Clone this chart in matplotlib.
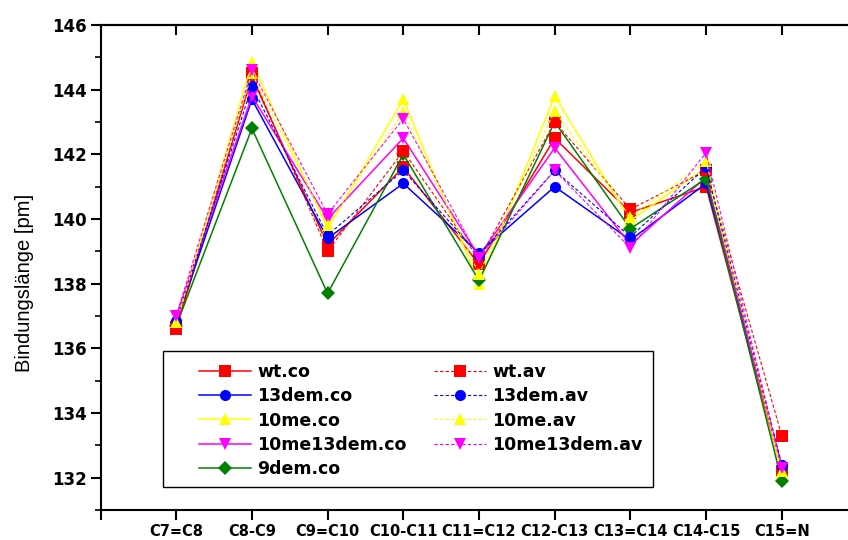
import matplotlib
matplotlib.use("Agg")
import matplotlib.pyplot as plt
from matplotlib.ticker import MultipleLocator
from matplotlib.patches import Rectangle

bonds = ["C7=C8", "C8-C9", "C9=C10", "C10-C11", "C11=C12",
         "C12-C13", "C13=C14", "C14-C15", "C15=N"]

wt_co = [136.6, 144.4, 139.2, 141.6, 138.6, 142.5, 140.2, 141.0, 132.2]
wt_av = [136.65, 144.5, 139.0, 142.1, 138.75, 143.0, 140.3, 141.5, 133.3]
dem13_co = [136.8, 143.7, 139.4, 141.1, 138.95, 141.0, 139.35, 141.1, 132.35]
dem13_av = [136.85, 144.1, 139.5, 141.5, 138.9, 141.5, 139.45, 141.6, 132.4]
me10_co = [136.75, 144.85, 139.7, 143.7, 138.0, 143.8, 139.95, 141.6, 132.15]
me10_av = [136.8, 144.5, 139.8, 143.3, 138.3, 143.35, 140.05, 141.8, 132.2]
me10dem13_co = [137.0, 143.8, 140.0, 142.5, 138.85, 142.2, 139.2, 141.3, 132.3]
me10dem13_av = [137.0, 144.6, 140.15, 143.1, 138.8, 141.5, 139.1, 142.05, 132.3]
dem9_co = [136.7, 142.8, 137.7, 142.0, 138.1, 143.0, 139.7, 141.25, 131.9]

x = list(range(1, len(bonds) + 1))

fig = plt.figure(figsize=(8.48, 5.4), dpi=100)
# axes box in pixels: left 100.5, bottom spine at 510, top at 25
ax = fig.add_axes([100.5 / 848, 30 / 540, 757 / 848, 485 / 540])

dash = (0, (3, 2))
series = [
    (wt_co, "wt.co", "red", "s", "-"),
    (dem13_co, "13dem.co", "blue", "o", "-"),
    (me10_co, "10me.co", "yellow", "^", "-"),
    (me10dem13_co, "10me13dem.co", "magenta", "v", "-"),
    (dem9_co, "9dem.co", "green", "D", "-"),
    (wt_av, "wt.av", "red", "s", dash),
    (dem13_av, "13dem.av", "blue", "o", dash),
    (me10_av, "10me.av", "yellow", "^", dash),
    (me10dem13_av, "10me13dem.av", "magenta", "v", dash),
]

for vals, name, col, mk, ls in series:
    lw = 1.1 if ls == "-" else 0.8
    ms = 8 if mk != "D" else 7
    ax.plot(x, vals, linestyle=ls, color=col, marker=mk, markersize=ms,
            linewidth=lw, label=name, markeredgewidth=0)

ax.set_xlim(0, 10)
ax.set_ylim(131, 146)
ax.set_xticks(range(0, 10))
ax.set_xticklabels([""] + bonds, fontweight="bold", fontsize=10.5,
                   family="DejaVu Sans")
ax.yaxis.set_major_locator(MultipleLocator(2))
ax.yaxis.set_minor_locator(MultipleLocator(1))
for lab in ax.get_yticklabels():
    lab.set_fontweight("bold")
    lab.set_fontsize(12)
    lab.set_family("DejaVu Sans")

ax.tick_params(axis="both", which="major", direction="out", length=7,
               width=1.5, pad=3)
ax.tick_params(axis="y", which="minor", direction="out", length=4, width=1.2)
ax.tick_params(axis="y", right=False)
for sp in ax.spines.values():
    sp.set_linewidth(1.5)

top = ax.secondary_xaxis("top")
top.set_xticks(range(0, 10))
top.tick_params(direction="in", length=7, width=1.5, labeltop=False)
top.spines["top"].set_linewidth(1.5)

ax.set_ylabel("Bindungslänge [pm]", fontsize=14.5, family="Liberation Sans")
ax.yaxis.set_label_coords(-0.088, 0.468)

# legend frame drawn separately, legend itself without frame
box = Rectangle((62.5 / 757, 23 / 485), 490 / 757, 136 / 485,
                transform=ax.transAxes, fill=True, facecolor="white",
                edgecolor="black", linewidth=1.0, zorder=4)
ax.add_patch(box)
leg = ax.legend(ncol=2, loc="upper left",
                bbox_to_anchor=(98.5 / 757, 147 / 485),
                frameon=False,
                prop={"family": "DejaVu Sans", "weight": "bold", "size": 12.5},
                handlelength=3.0, labelspacing=0.36, borderpad=0,
                handletextpad=0.34, columnspacing=1.6, borderaxespad=0)
leg.set_zorder(5)

fig.savefig("out.png", dpi=100)
